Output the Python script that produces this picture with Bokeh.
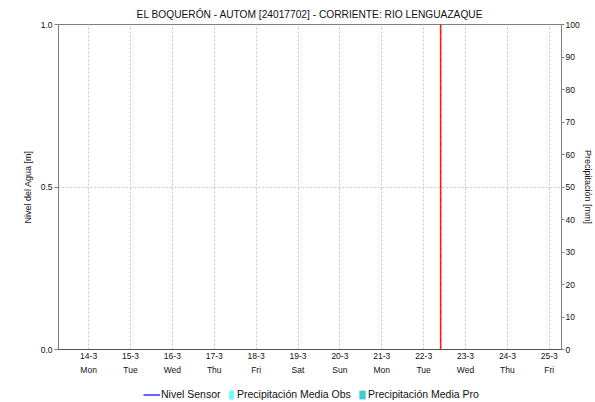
from datetime import datetime
from bokeh.plotting import figure
from bokeh.layouts import column
from bokeh.models import (Range1d, LinearAxis, FixedTicker, Span, Legend,
                          LegendItem, ColumnDataSource, PrintfTickFormatter)
from bokeh.embed import file_html
from bokeh.resources import INLINE

# ---------------- data ----------------
title_text = "EL BOQUERÓN - AUTOM [24017702] - CORRIENTE: RIO LENGUAZAQUE"
day_dates = ["2022-03-14", "2022-03-15", "2022-03-16", "2022-03-17", "2022-03-18",
             "2022-03-19", "2022-03-20", "2022-03-21", "2022-03-22", "2022-03-23",
             "2022-03-24", "2022-03-25"]
day_labels = ["14-3\nMon", "15-3\nTue", "16-3\nWed", "17-3\nThu", "18-3\nFri",
              "19-3\nSat", "20-3\nSun", "21-3\nMon", "22-3\nTue", "23-3\nWed",
              "24-3\nThu", "25-3\nFri"]
x_start = "2022-03-13 06:45"
x_end = "2022-03-25 07:00"
now_time = "2022-03-22 09:45"
nivel_ticks = [0.0, 0.5, 1.0]
precip_ticks = [0, 10, 20, 30, 40, 50, 60, 70, 80, 90, 100]
series_names = ["Nivel Sensor", "Precipitación Media Obs", "Precipitación Media Pro"]
# series (no observations in the period shown)
nivel_time, nivel_value = [], []
precip_obs_time, precip_obs_value = [], []
precip_pro_time, precip_pro_value = [], []

FONT = "Liberation Sans"
TXT = "#111111"
AX = "#808080"
GRID = "#c4c4c4"
C_NIVEL = "#0000ff"
C_OBS = "#66ffff"
C_PRO = "#44cccc"
TICK_FS = "8.5px"
AXL_FS = "9px"

EPOCH = datetime(1970, 1, 1)
def ms(s):
    fmt = "%Y-%m-%d %H:%M" if " " in s else "%Y-%m-%d"
    return (datetime.strptime(s, fmt) - EPOCH).total_seconds() * 1000.0

tick_ms = [ms(d) for d in day_dates]

p = figure(width=595, height=378, x_axis_type="datetime",
           x_range=Range1d(ms(x_start), ms(x_end)), y_range=Range1d(0, 1),
           output_backend="svg", toolbar_location=None,
           min_border_left=58, min_border_right=33, min_border_top=24, min_border_bottom=29)
p.outline_line_color = AX
p.background_fill_color = "white"
p.border_fill_color = "white"

p.title.text = title_text
p.title.align = "center"
p.title.text_font = FONT
p.title.text_font_size = "10.2px"
p.title.text_font_style = "normal"
p.title.text_color = TXT
p.title.standoff = 10

p.extra_y_ranges = {"precip": Range1d(0, 100)}

# series renderers
src_n = ColumnDataSource(dict(x=nivel_time, y=nivel_value))
src_o = ColumnDataSource(dict(x=precip_obs_time, top=precip_obs_value))
src_p = ColumnDataSource(dict(x=precip_pro_time, top=precip_pro_value))
p.line("x", "y", source=src_n, line_color=C_NIVEL, line_width=1.2)
p.vbar(x="x", top="top", width=3600000, source=src_o, fill_color=C_OBS,
       line_color=None, y_range_name="precip")
p.vbar(x="x", top="top", width=3600000, source=src_p, fill_color=C_PRO,
       line_color=None, y_range_name="precip")

# x axis
xa = p.xaxis[0]
xa.ticker = FixedTicker(ticks=tick_ms)
xa.major_label_overrides = {t: l for t, l in zip(tick_ms, day_labels)}
xa.major_tick_out = 0
xa.major_tick_in = 0
xa.minor_tick_out = 0
xa.minor_tick_in = 0
xa.axis_line_color = "#222222"
xa.axis_line_dash = "1 1"
xa.major_label_text_font = FONT
xa.major_label_text_font_size = TICK_FS
xa.major_label_text_color = TXT
xa.major_label_text_line_height = 1.4
xa.major_label_standoff = 1

# left axis
ya = p.yaxis[0]
ya.ticker = FixedTicker(ticks=nivel_ticks)
ya.formatter = PrintfTickFormatter(format="%.1f")
ya.axis_label = "Nivel del Agua [m]"
ya.axis_label_text_font = FONT
ya.axis_label_text_font_size = AXL_FS
ya.axis_label_text_font_style = "normal"
ya.axis_label_text_color = TXT
ya.axis_label_standoff = 5
ya.axis_line_color = AX
ya.major_tick_line_color = AX
ya.major_tick_out = 4
ya.major_tick_in = 0
ya.minor_tick_out = 0
ya.minor_tick_in = 0
ya.major_label_text_font = FONT
ya.major_label_text_font_size = TICK_FS
ya.major_label_text_color = TXT
ya.major_label_standoff = 2

# right axis
ra = LinearAxis(y_range_name="precip", ticker=FixedTicker(ticks=precip_ticks))
ra.axis_line_color = AX
ra.major_tick_line_color = AX
ra.major_tick_out = 3
ra.major_tick_in = 0
ra.minor_tick_out = 0
ra.minor_tick_in = 0
ra.major_label_text_font = FONT
ra.major_label_text_font_size = TICK_FS
ra.major_label_text_color = TXT
ra.major_label_standoff = 1
ra.axis_label = "Precipitación [mm]"
ra.axis_label_text_font = FONT
ra.axis_label_text_font_size = AXL_FS
ra.axis_label_text_font_style = "normal"
ra.axis_label_text_color = TXT
ra.axis_label_standoff = 0
p.add_layout(ra, "right")

# grids
p.xgrid.ticker = FixedTicker(ticks=tick_ms)
p.xgrid.grid_line_color = GRID
p.xgrid.grid_line_dash = "2 2"
p.ygrid.ticker = FixedTicker(ticks=[0.5])
p.ygrid.grid_line_color = GRID
p.ygrid.grid_line_dash = "2 2"

# now marker
p.add_layout(Span(location=ms(now_time), dimension="height", line_color="#ff2020", line_width=1.6))
p.add_layout(Span(location=ms(now_time), dimension="height", line_color="#c00000",
                  line_width=1.0, line_dash="1 6"))

# ---------------- legend strip ----------------
lg = figure(width=595, height=24, x_range=Range1d(0, 1), y_range=Range1d(0, 1),
            output_backend="svg", toolbar_location=None,
            x_axis_location=None, y_axis_location=None,
            min_border_left=0, min_border_right=0, min_border_top=0, min_border_bottom=0)
lg.outline_line_color = None
lg.xgrid.visible = False
lg.ygrid.visible = False
nan = float("nan")
ln = lg.line(x=[nan], y=[nan], line_color=C_NIVEL, line_width=1.2)
lo = lg.vbar(x=[nan], top=[nan], width=0.1, fill_color=C_OBS, line_color=None)
lp = lg.vbar(x=[nan], top=[nan], width=0.1, fill_color=C_PRO, line_color=None)

def add_leg(label, rend, x, gw, standoff):
    leg = Legend(items=[LegendItem(label=label, renderers=[rend])], location=(x, 2),
                 orientation="horizontal", glyph_width=gw, glyph_height=11,
                 label_height=11, label_standoff=standoff, padding=0, margin=0, spacing=0,
                 border_line_color=None, background_fill_alpha=0,
                 label_text_font=FONT, label_text_font_size="10.5px", label_text_color=TXT)
    lg.add_layout(leg, "center")

# x offsets are measured from the aligned frame's left edge
add_leg(series_names[0], ln, 85, 17, 1)
add_leg(series_names[1], lo, 170, 6, 3)
add_leg(series_names[2], lp, 300, 8, 2)

layout = column(p, lg, spacing=0)
open("out.html", "w").write(file_html(layout, INLINE))
